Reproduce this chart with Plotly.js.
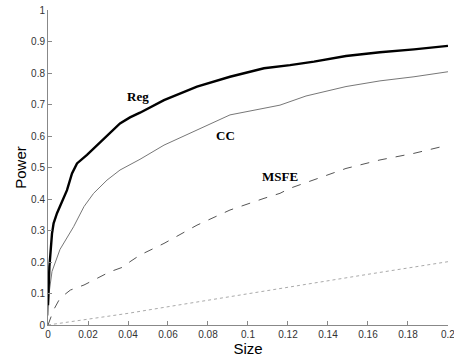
<!DOCTYPE html>
<html>
<head>
<meta charset="utf-8">
<script src="https://cdn.plot.ly/plotly-3.0.1.min.js"></script>
<style>html,body{margin:0;padding:0;background:#fff;}#chart{width:454px;height:360px;}</style>
</head>
<body>
<div id="chart"></div>
<script>
const regSize  = [0, 0.0007, 0.002, 0.0028, 0.0045, 0.007, 0.0095, 0.012, 0.0145, 0.0195, 0.0245, 0.0295, 0.036, 0.041, 0.046, 0.058, 0.0745, 0.091, 0.108, 0.121, 0.133, 0.149, 0.166, 0.183, 0.2];
const regPower = [0.063, 0.185, 0.29, 0.323, 0.355, 0.39, 0.428, 0.481, 0.513, 0.54, 0.571, 0.603, 0.64, 0.659, 0.674, 0.714, 0.757, 0.788, 0.815, 0.825, 0.836, 0.854, 0.866, 0.875, 0.886];

const ccSize  = [0, 0.0005, 0.002, 0.0028, 0.006, 0.0128, 0.018, 0.0228, 0.0295, 0.036, 0.041, 0.046, 0.058, 0.0745, 0.091, 0.108, 0.116, 0.129, 0.149, 0.166, 0.183, 0.2];
const ccPower = [0.03, 0.1, 0.17, 0.185, 0.24, 0.312, 0.376, 0.418, 0.46, 0.492, 0.508, 0.526, 0.571, 0.619, 0.667, 0.688, 0.698, 0.727, 0.757, 0.775, 0.788, 0.804];

const msfeSize  = [0, 0.0028, 0.006, 0.0112, 0.018, 0.0245, 0.031, 0.038, 0.041, 0.046, 0.058, 0.0745, 0.091, 0.108, 0.116, 0.121, 0.133, 0.149, 0.166, 0.183, 0.2];
const msfePower = [0.0, 0.048, 0.085, 0.111, 0.127, 0.148, 0.169, 0.185, 0.201, 0.222, 0.259, 0.317, 0.365, 0.402, 0.418, 0.434, 0.46, 0.497, 0.524, 0.545, 0.571];

const nomSize  = [0, 0.02, 0.04, 0.06, 0.08, 0.1, 0.12, 0.14, 0.16, 0.18, 0.2];
const nomPower = [0, 0.018, 0.037, 0.058, 0.079, 0.1, 0.121, 0.141, 0.161, 0.181, 0.201];

const xTickText = ["0","0.02","0.04","0.06","0.08","0.1","0.12","0.14","0.16","0.18","0.2"];
const yTickVals = [0,0.1,0.2,0.3,0.4,0.5,0.6,0.7,0.8,0.9,1];
const yTickText = ["0","0.1","0.2","0.3","0.4","0.5","0.6","0.7","0.8","0.9","1"];

const labels = [
  {text: "Reg",  x: 0.045, y: 0.727},
  {text: "CC",   x: 0.089, y: 0.603},
  {text: "MSFE", x: 0.116, y: 0.47}
];

const traces = [
  {x: nomSize,  y: nomPower,  mode: "lines", line: {color: "#aaaaaa", width: 1, dash: "dot"}},
  {x: msfeSize, y: msfePower, mode: "lines", line: {color: "#555555", width: 1, dash: "dash"}},
  {x: ccSize,   y: ccPower,   mode: "lines", line: {color: "#777777", width: 1}},
  {x: regSize,  y: regPower,  mode: "lines", line: {color: "#000000", width: 2.4}}
];

const axisCommon = {
  showgrid: false, zeroline: false, showline: true, linecolor: "#888888", linewidth: 1,
  ticks: "inside", ticklen: 4, tickcolor: "#888888", mirror: false,
  ticklabeloverflow: "allow",
  tickfont: {family: "Arial, Liberation Sans, sans-serif", size: 10, color: "#333333"}
};

const layout = {
  width: 454, height: 360,
  margin: {l: 48, r: 6, t: 10, b: 35},
  paper_bgcolor: "#ffffff", plot_bgcolor: "#ffffff",
  showlegend: false,
  xaxis: Object.assign({}, axisCommon, {
    range: [0, 0.20001], tickmode: "array", tickvals: nomSize, ticktext: xTickText,
    title: {text: "Size", standoff: 0, font: {family: "Arial, Liberation Sans, sans-serif", size: 15, color: "#000"}}
  }),
  yaxis: Object.assign({}, axisCommon, {
    range: [0, 1.00001], tickmode: "array", tickvals: yTickVals, ticktext: yTickText,
    title: {text: "Power", standoff: 0, font: {family: "Arial, Liberation Sans, sans-serif", size: 15, color: "#000"}}
  }),
  annotations: labels.map(l => ({
    text: "<b>" + l.text + "</b>", x: l.x, y: l.y, xref: "x", yref: "y", showarrow: false,
    font: {family: "Liberation Serif, Times New Roman, serif", size: 13, color: "#000"}
  }))
};

Plotly.newPlot("chart", traces, layout, {displayModeBar: false, staticPlot: true});
</script>
</body>
</html>
